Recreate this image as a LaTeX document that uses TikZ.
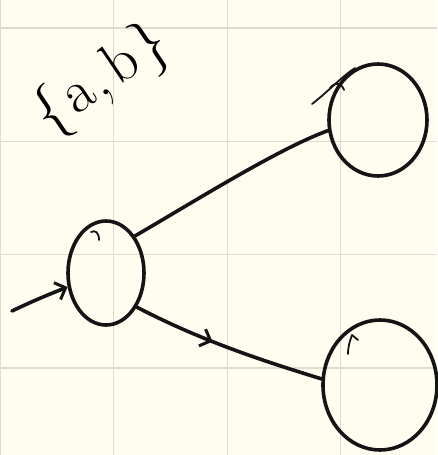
\documentclass[tikz,border=0pt]{standalone}
\usetikzlibrary{shapes.geometric,arrows.meta,decorations.markings}
\definecolor{paper}{HTML}{FFFDF0}
\definecolor{gridc}{HTML}{DEDBD0}
\begin{document}
\begin{tikzpicture}[x=1pt,y=-1pt,
  ink/.style={line width=3.6pt,line cap=round,line join=round,black!92},
  state/.style={ellipse,draw,ink,inner sep=0pt},
  hook/.style={line width=1.8pt,line cap=round,black!92},
  penbarb/.tip={Straight Barb[length=9pt,width=18pt,line width=3pt]},
  midarrow/.style={postaction={decorate},decoration={markings,
     mark=at position #1 with {\arrow{penbarb}}}}]
\fill[paper] (0,0) rectangle (437,455);
\useasboundingbox (0,0) rectangle (437,455);
\foreach \gx in {0.5,113.7,227.5,340.7} \draw[gridc,line width=1.2pt] (\gx,0) -- (\gx,455);
\foreach \gy in {28,141.5,254.5,368} \draw[gridc,line width=1.2pt] (0,\gy) -- (437,\gy);
% states
\node[state,minimum width=76pt,minimum height=104pt] (s) at (106,273) {};
\node[state,minimum width=98pt,minimum height=112pt] (q1) at (378,120) {};
\node[state,minimum width=114pt,minimum height=130pt] (q2) at (380,385) {};
% pen hooks
\draw[hook] (99,240) .. controls (99,232) and (95,230) .. (91,232);
\draw[hook] (312,104) .. controls (330,90) and (340,78) .. (355,68);
\draw[hook] (344,90) .. controls (341,82) and (335,82) .. (330,88);
\draw[hook] (348,354) .. controls (348,345) and (351,338) .. (352,335);
\draw[hook] (352,335) -- (358,340);
% label
\node[rotate=34,font=\fontsize{60}{60}\selectfont,inner sep=0pt] (lab) at (102,80) {\{\kern4pt a\kern2pt,\kern6pt b\kern4pt\}};
% edges
\coordinate (in) at (12,311);
\draw[ink,-{penbarb}] (in) .. controls (35,300) and (50,294) .. (s.200);
\draw[ink] (s.52) .. controls (200,198) and (280,148) .. (q1.192);
\draw[ink,midarrow=0.42] (s.-48) .. controls (200,340) and (260,360) .. (q2.174);
\end{tikzpicture}
\end{document}
